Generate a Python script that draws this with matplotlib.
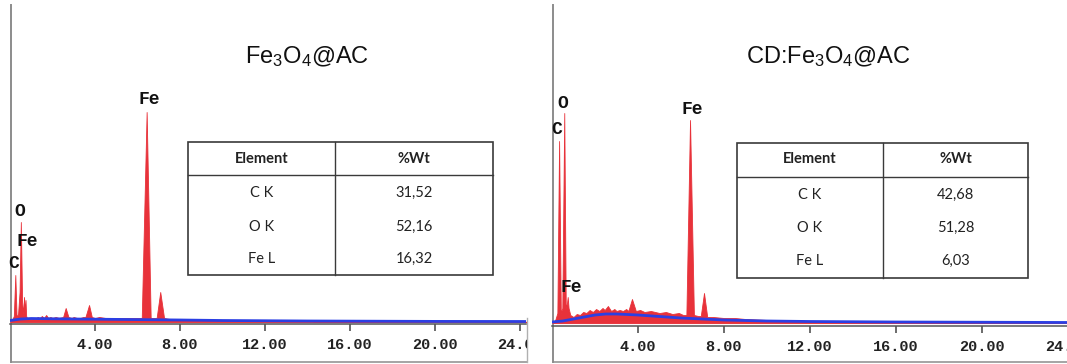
import matplotlib
matplotlib.use("Agg")
import matplotlib.pyplot as plt
from matplotlib.lines import Line2D
from matplotlib.patches import Rectangle
from matplotlib.transforms import Bbox, TransformedBbox

plt.rcParams['mathtext.default'] = 'regular'

# ---------------- data ----------------
# Left spectrum: Fe3O4@AC   (energy keV, counts arbitrary units)
energy_left = [0.00, 0.10, 0.18, 0.25, 0.31, 0.38, 0.45, 0.51, 0.57, 0.62, 0.66, 0.70,
               0.73, 0.76, 0.80, 0.88, 1.00, 1.10, 1.20, 1.30, 1.40, 1.50, 1.60, 1.70,
               1.80, 1.90, 2.00, 2.15, 2.30, 2.50, 2.62, 2.75, 2.90, 3.00, 3.15, 3.30,
               3.45, 3.55, 3.72, 3.85, 4.00, 4.20, 4.50, 4.80, 5.00, 5.40, 5.80,
               6.20, 6.43, 6.62, 6.75, 6.90, 7.07, 7.25, 7.50, 8.50, 9.50, 10.0, 11.0,
               12.0, 13.0, 14.0, 14.5, 16.0, 20.0, 24.3]
counts_left = [0, 2, 6, 47, 5, 8, 30, 100, 20, 8, 25, 10,
               22, 6, 4, 3, 3, 4, 3, 5, 4, 6, 4, 7,
               4, 5, 4, 5, 4, 5, 14, 5, 4, 5, 4, 4,
               5, 5, 17, 5, 4, 5, 4, 4, 4, 4, 4,
               4, 210, 4, 4, 4, 30, 4, 3, 2, 1.5, 2, 1.5,
               2, 1.5, 1.2, 0.5, 0.3, 0.2, 0.2]
bg_energy_left = [0, 0.5, 1, 2, 4, 6, 8, 10, 14, 20, 24.3]
bg_counts_left = [1.5, 3, 3.5, 3.2, 2.8, 2.4, 2.0, 1.5, 1.0, 0.6, 0.5]

# Right spectrum: CD:Fe3O4@AC
energy_right = [0.00, 0.15, 0.25, 0.33, 0.41, 0.48, 0.57, 0.64, 0.70, 0.73, 0.77, 0.85,
                1.00, 1.15, 1.30, 1.45, 1.60, 1.75, 1.90, 2.05, 2.20, 2.35, 2.45, 2.60,
                2.75, 2.90, 3.00, 3.15, 3.30, 3.45, 3.55, 3.72, 3.90, 4.10, 4.30, 4.60,
                5.00, 5.30, 5.60, 5.90, 6.10, 6.25, 6.42, 6.60, 6.80, 6.92, 7.07, 7.22,
                7.50, 8.00, 8.50, 9.00, 10.0, 11.0, 12.0, 14.0, 16.0, 18.0, 20.0, 24.2]
counts_right = [0, 3, 10, 182, 10, 15, 210, 15, 20, 26, 15, 8,
                6, 9, 8, 11, 10, 13, 11, 14, 12, 15, 13, 17,
                12, 14, 12, 13, 12, 14, 12, 24, 12, 13, 11, 12,
                10, 11, 9, 10, 8, 8, 203, 8, 7, 7, 30, 6,
                6, 5, 5, 4, 3, 2.5, 2, 1.5, 1, 0.8, 0.5, 0.3]
bg_energy_right = [0, 0.5, 1.0, 1.5, 2.0, 2.5, 3.0, 4.0, 5.0, 6.0, 7.0, 8.0, 10.0, 12.0, 16.0, 24.2]
bg_counts_right = [1, 2, 4, 6, 8, 9, 9, 8, 6.5, 5, 4, 3, 2, 1.5, 1, 0.5]

# Peak labels (label, energy, counts of label position)
peaks_left = [("C", 0.15, 58), ("O", 0.45, 110), ("Fe", 0.82, 80), ("Fe", 6.55, 222)]
peaks_right = [("C", 0.22, 194), ("O", 0.48, 220), ("Fe", 0.88, 36), ("Fe", 6.52, 214)]

tick_values = [4, 8, 12, 16, 20, 24]
tick_labels_left = ["4.00", "8.00", "12.00", "16.00", "20.00", "24.00"]
tick_labels_right = ["4.00", "8.00", "12.00", "16.00", "20.00", "24.00"]

titles = [r"Fe$_3$O$_4$@AC", r"CD:Fe$_3$O$_4$@AC"]

elements = ["C K", "O K", "Fe L"]
wt_left = [31.52, 52.16, 16.32]
wt_right = [42.68, 51.28, 6.03]
table_header = ["Element", "%Wt"]

# ---------------- figure ----------------
W, H = 1067, 364
fig = plt.figure(figsize=(W / 100, H / 100), dpi=100)

def fx(x):
    return x / W

def fy(y):
    return 1 - y / H

RED = "#e8323a"
BLUE = "#2b3fe3"
MONO = "Liberation Mono"


def panel(x0px, pxkev, xmax, axis_y, base_off, E, C, bgE, bgC, peaks, ticklabels, clip_right):
    width = xmax * pxkev
    ax = fig.add_axes([fx(x0px), fy(axis_y), width / W, (axis_y - 5) / H])
    ax.set_xlim(0, xmax)
    ax.set_ylim(-base_off, axis_y - 5 - base_off)
    ax.fill_between(E, 0, C, color=RED, linewidth=0.6, edgecolor=RED, zorder=2)
    ax.plot(bgE, bgC, color=BLUE, lw=2.0, zorder=3)
    ax.axhline(0, color="#f2a0a0", lw=0.8, zorder=1)
    for lab, e, c in peaks:
        ax.text(e, c, lab, ha="center", va="center", fontsize=13, fontweight="bold",
                family=MONO, color="#111111", zorder=4)
    for s in ["top", "right", "left"]:
        ax.spines[s].set_visible(False)
    ax.spines["bottom"].set_color("#555555")
    ax.spines["bottom"].set_linewidth(1.1)
    ax.set_yticks([])
    ax.set_xticks(tick_values)
    ax.set_xticklabels(ticklabels, family=MONO, fontweight="bold", fontsize=11, color="#222222")
    ax.tick_params(axis="x", direction="out", length=5, width=1.1, color="#444444", pad=5)
    ax.patch.set_alpha(0)
    if clip_right is not None:
        bb = TransformedBbox(Bbox([[0, 0], [fx(clip_right), 1]]), fig.transFigure)
        for t in ax.xaxis.get_major_ticks():
            t.label1.set_clip_box(bb)
            t.label1.set_clip_on(True)
    return ax

axL = panel(10, 21.25, 24.3, 324, 2, energy_left, counts_left, bg_energy_left, bg_counts_left,
            peaks_left, tick_labels_left, 527)
axR = panel(552, 21.5, 24.2, 326, 3, energy_right, counts_right, bg_energy_right, bg_counts_right,
            peaks_right, tick_labels_right, None)

# frame lines (drawn beneath the axes content)
def fline(x1, y1, x2, y2, color="#8c8c8c", lw=1.4, z=-1):
    fig.add_artist(Line2D([fx(x1), fx(x2)], [fy(y1), fy(y2)], color=color, lw=lw,
                          transform=fig.transFigure, zorder=z))

fline(11, 5, 11, 362)
fline(553, 5, 553, 362)
fline(11, 362, 527, 362, lw=1.1)
fline(553, 362, 1067, 362, lw=1.1)
fline(527, 318, 527, 362, color="#b0b0b0", lw=1.0)

# titles
fig.text(fx(307), fy(57), titles[0], ha="center", va="center", fontsize=17,
         family="Liberation Sans", color="#111111")
fig.text(fx(828), fy(57), titles[1], ha="center", va="center", fontsize=17,
         family="Liberation Sans", color="#111111")

# tables
def table(x1, x2, xdiv, ytop, ysep, ybot, header_y, row_ys, values):
    fig.add_artist(Rectangle((fx(x1), fy(ybot)), fx(x2) - fx(x1), fy(ytop) - fy(ybot),
                             transform=fig.transFigure, fill=True, facecolor="white",
                             edgecolor="#3a3a3a", lw=1.2))
    fline(x1, ysep, x2, ysep, color="#3a3a3a", lw=1.0, z=2)
    fline(xdiv, ytop, xdiv, ybot, color="#3a3a3a", lw=1.0, z=2)
    c1 = (x1 + xdiv) / 2
    c2 = (xdiv + x2) / 2
    fig.text(fx(c1), fy(header_y), table_header[0], ha="center", va="center",
             fontsize=10.5, fontweight="bold", family="Lato", color="#222222")
    fig.text(fx(c2), fy(header_y), table_header[1], ha="center", va="center",
             fontsize=10.5, fontweight="bold", family="Lato", color="#222222")
    for el, v, yy in zip(elements, values, row_ys):
        fig.text(fx(c1), fy(yy), el, ha="center", va="center", fontsize=10.5,
                 family="Lato", color="#222222")
        fig.text(fx(c2), fy(yy), f"{v:.2f}".replace(".", ","), ha="center", va="center",
                 fontsize=10.5, family="Lato", color="#222222")

table(188, 493, 335, 142, 175, 275, 159, [193, 227, 259], wt_left)
table(737, 1028, 883, 143, 177, 278, 159, [195, 228, 261], wt_right)

fig.savefig("out.png", dpi=100)
